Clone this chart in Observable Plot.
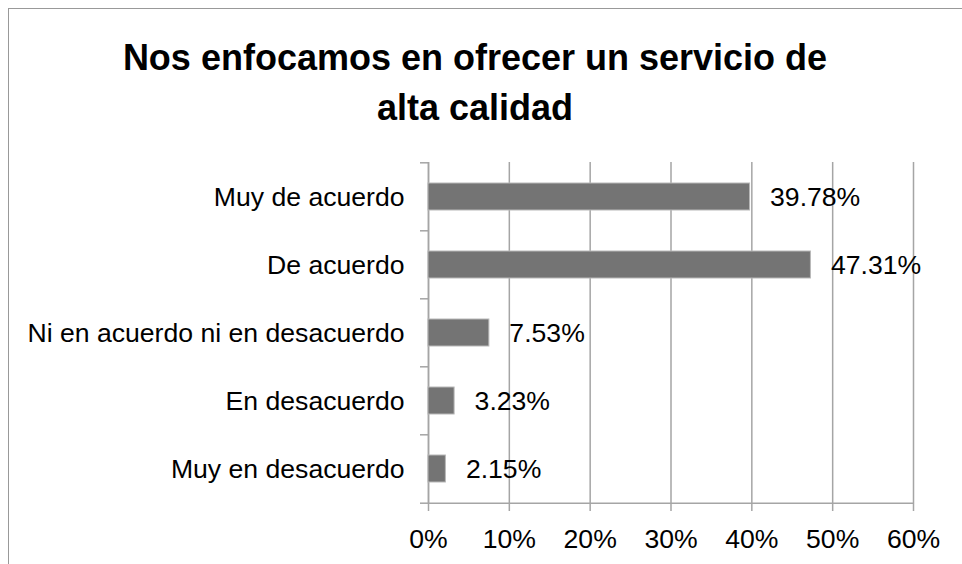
<!DOCTYPE html>
<html>
<head>
<meta charset="utf-8">
<script src="https://cdn.jsdelivr.net/npm/d3@7"></script>
<script src="https://cdn.jsdelivr.net/npm/@observablehq/plot@0.6"></script>
<style>
  html, body { margin: 0; padding: 0; background: #fff; }
  #wrap { position: relative; width: 962px; height: 564px; overflow: hidden; font-family: "Liberation Sans", Arial, sans-serif; }
  #frame { position: absolute; left: 8px; top: 8px; width: 1000px; height: 600px;
           border-left: 1.5px solid #999; border-top: 1.5px solid #999; pointer-events: none; }
  #title { position: absolute; left: 0; top: 33px; width: 950px; text-align: center;
           font-weight: bold; font-size: 36px; line-height: 50px; color: #000; }
  #chart svg { display: block; }
</style>
</head>
<body>
<div id="wrap">
  <div id="chart"></div>
  <div id="frame"></div>
  <div id="title">Nos enfocamos en ofrecer un servicio de<br>alta calidad</div>
</div>
<script>
const categories = ["Muy de acuerdo", "De acuerdo", "Ni en acuerdo ni en desacuerdo", "En desacuerdo", "Muy en desacuerdo"];
const values = [39.78, 47.31, 7.53, 3.23, 2.15];
const valueLabels = ["39.78%", "47.31%", "7.53%", "3.23%", "2.15%"];
const xTicks = [0, 10, 20, 30, 40, 50, 60];
const xTickLabels = ["0%", "10%", "20%", "30%", "40%", "50%", "60%"];

const data = categories.map((c, i) => ({cat: c, value: values[i], label: valueLabels[i]}));

const W = 962, H = 564, mT = 162, mB = 60, mL = 428, mR = 49;
const step = (H - mT - mB) / categories.length;
const grey = "#a5a5a5";
const fs = 26.6;

const chart = Plot.plot({
  width: W, height: H,
  marginTop: mT, marginBottom: mB, marginLeft: mL, marginRight: mR,
  style: {fontFamily: "'Liberation Sans', Arial, sans-serif", fontSize: fs + "px", background: "none", color: "#000"},
  x: {domain: [0, 60]},
  y: {domain: categories, paddingInner: 0.6, paddingOuter: 0.3},
  marks: [
    Plot.gridX(xTicks, {stroke: grey, strokeOpacity: 1, strokeWidth: 1.5}),
    Plot.ruleX([0], {stroke: grey, strokeWidth: 1.5}),
    Plot.ruleY([categories[categories.length - 1]], {stroke: grey, strokeWidth: 1.5, dy: step / 2}),
    Plot.axisX(xTicks, {tickSize: 7, tickPadding: 18, stroke: grey, strokeWidth: 1.5, fill: "#000", fontSize: fs,
      tickFormat: (d) => xTickLabels[xTicks.indexOf(d)], label: null}),
    Plot.axisY(categories, {tickSize: 8, text: null, stroke: grey, strokeWidth: 1.5, dy: -step / 2, label: null}),
    Plot.axisY([categories[categories.length - 1]], {tickSize: 8, text: null, stroke: grey, strokeWidth: 1.5, dy: step / 2, label: null}),
    Plot.axisY(categories, {tickSize: 0, tickPadding: 24, fill: "#000", fontSize: fs, label: null}),
    Plot.barX(data, {x: "value", y: "cat", fill: "#747474", stroke: "#b8b8b8", strokeWidth: 1}),
    Plot.text(data, {x: "value", y: "cat", text: "label", textAnchor: "start", dx: 20, fontSize: fs, fill: "#000"})
  ]
});
document.getElementById("chart").appendChild(chart);
</script>
</body>
</html>
